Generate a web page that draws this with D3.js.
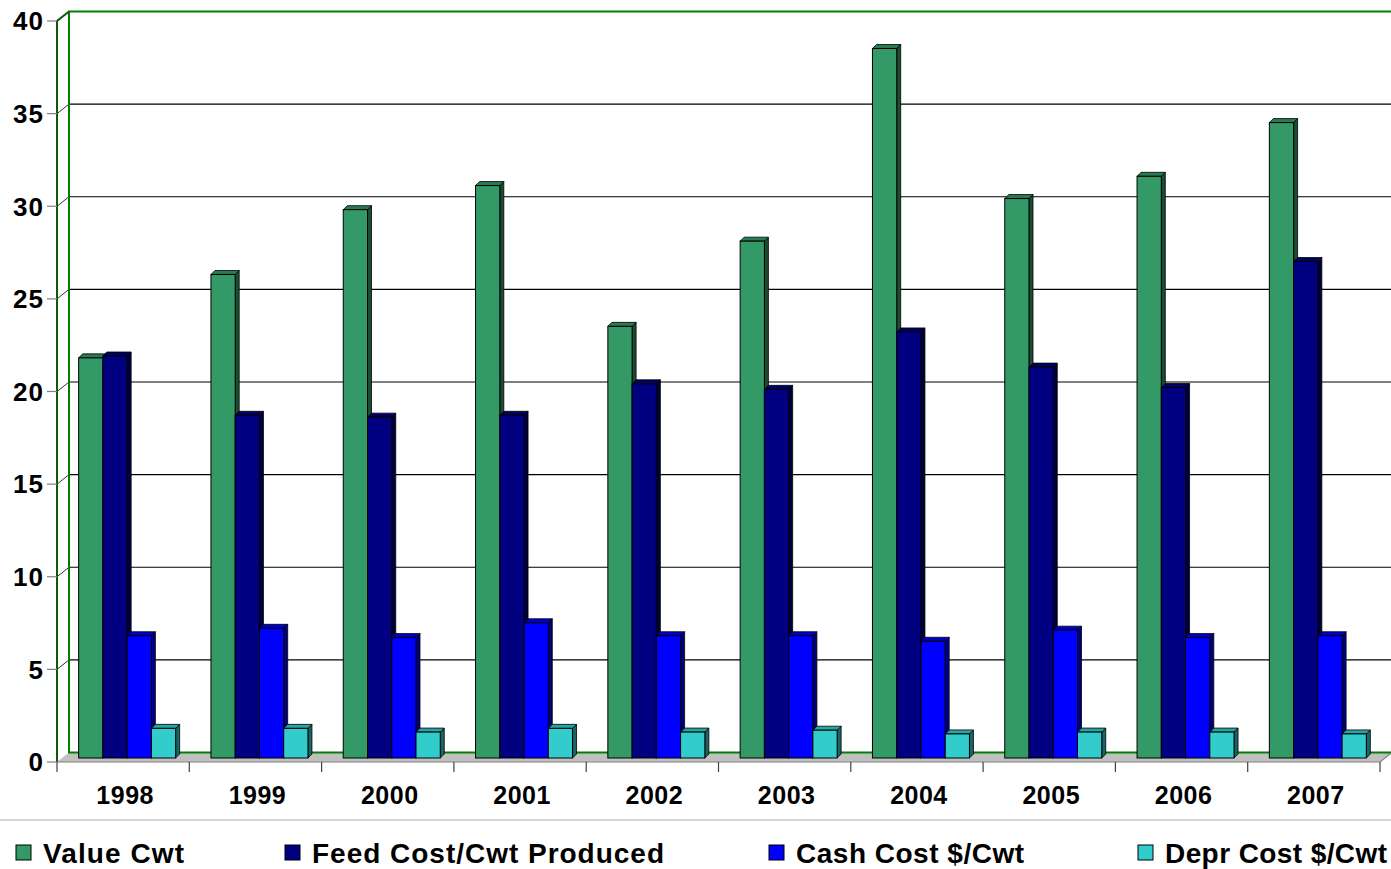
<!DOCTYPE html>
<html><head><meta charset="utf-8">
<script src="https://cdn.jsdelivr.net/npm/d3@7"></script>
<style>body{margin:0;background:#fff;overflow:hidden}svg{display:block}</style>
</head><body>
<svg id="c" width="1391" height="869"></svg>
<script>
const years = ["1998","1999","2000","2001","2002","2003","2004","2005","2006","2007"];
const seriesNames = ["Value Cwt","Feed Cost/Cwt Produced","Cash Cost $/Cwt","Depr Cost $/Cwt"];
const valueCwt = [21.6, 26.1, 29.6, 30.9, 23.3, 27.9, 38.3, 30.2, 31.4, 34.3];
const feedCost = [21.7, 18.5, 18.4, 18.5, 20.2, 19.9, 23.0, 21.1, 20.0, 26.8];
const cashCost = [6.6, 7.0, 6.5, 7.3, 6.6, 6.6, 6.3, 6.9, 6.5, 6.6];
const deprCost = [1.6, 1.6, 1.4, 1.6, 1.4, 1.5, 1.3, 1.4, 1.4, 1.3];
const yTicks = [0,5,10,15,20,25,30,35,40];

const seriesValues = [valueCwt, feedCost, cashCost, deprCost];
const faceColors = ["#339966","#000080","#0000ff","#33cccc"];
const topColors  = ["#287a52","#000066","#0000cc","#29a3a3"];
const sideColors = ["#1a4d33","#00003d","#000080","#1a6666"];

const svg = d3.select("#c");
const FONT = "Arial, 'Liberation Sans', sans-serif";

// geometry
const x0 = 57, x1 = 1380, yFloor = 762, yTop = 21;
const DX = 12, DY = -9.5;
const x = d3.scaleBand().domain(years).range([x0, x1]);
const yF = d3.scaleLinear().domain([0,40]).range([yFloor, yTop]);
const groupW = 97;
const xs = d3.scaleBand().domain(seriesNames).range([0, groupW]);
const bdx = 4, bdy = -4;

const g = svg.append("g");
g.append("path")
  .attr("d", `M${x0},${yFloor}L${x1},${yFloor}L${x1+DX},${yFloor+DY}L${x0+DX},${yFloor+DY}Z`)
  .attr("fill","#c0c0c0").attr("stroke","none");

yTicks.filter(v=>v>0 && v<40).forEach(v=>{
  const yb = yF(v)+DY;
  g.append("line").attr("x1",x0+DX).attr("x2",x1+DX).attr("y1",yb).attr("y2",yb)
    .attr("stroke","#000").attr("stroke-width",1.2);
  g.append("line").attr("x1",x0).attr("x2",x0+DX).attr("y1",yF(v)).attr("y2",yb)
    .attr("stroke","#000").attr("stroke-width",0.8);
});
g.append("path")
  .attr("d", `M${x0+DX},${yFloor+DY}L${x0+DX},${yTop+DY}L${x1+DX},${yTop+DY}L${x1+DX},${yFloor+DY}Z`)
  .attr("fill","none").attr("stroke","#008000").attr("stroke-width",2);
g.append("path")
  .attr("d", `M${x0},${yFloor}L${x0},${yTop}L${x0+DX},${yTop+DY}`)
  .attr("fill","none").attr("stroke","#0a5a0a").attr("stroke-width",2);
g.append("path")
  .attr("d", `M${x0},${yFloor}L${x1},${yFloor}L${x1+DX},${yFloor+DY}`)
  .attr("fill","none").attr("stroke","#808080").attr("stroke-width",1.2);

yTicks.forEach(v=>{
  g.append("line").attr("x1",x0-10).attr("x2",x0).attr("y1",yF(v)).attr("y2",yF(v))
    .attr("stroke","#808080").attr("stroke-width",1.2);
  g.append("text").attr("x",44).attr("y",yF(v)).attr("dy","0.36em")
    .attr("text-anchor","end").attr("font-family",FONT).attr("font-weight","bold")
    .attr("font-size",26).attr("letter-spacing","1px").attr("fill","#000").text(v);
});

const bounds = years.map(d=>x(d)).concat([x1]);
bounds.forEach(bx=>{
  g.append("line").attr("x1",bx).attr("x2",bx).attr("y1",yFloor).attr("y2",yFloor+10)
    .attr("stroke","#404040").attr("stroke-width",1.2);
});
years.forEach(d=>{
  g.append("text").attr("x",x(d)+x.bandwidth()/2+2).attr("y",804)
    .attr("text-anchor","middle").attr("font-family",FONT).attr("font-weight","bold")
    .attr("font-size",25).attr("letter-spacing","0.5px").attr("fill","#000").text(d);
});

const bars = svg.append("g");
const off = (x.bandwidth()-groupW)/2 + bdx;
years.forEach((yr,i)=>{
  seriesNames.forEach((s,k)=>{
    const v = seriesValues[k][i];
    const bx = x(yr) + off + xs(s);
    const bw = xs.bandwidth();
    const yb = yF(0) + bdy, yt = yF(v) + bdy;
    bars.append("path")
      .attr("d",`M${bx+bw},${yb}L${bx+bw},${yt}L${bx+bw+bdx},${yt+bdy}L${bx+bw+bdx},${yb+bdy}Z`)
      .attr("fill",sideColors[k]).attr("stroke","#000").attr("stroke-width",0.8);
    bars.append("path")
      .attr("d",`M${bx},${yt}L${bx+bw},${yt}L${bx+bw+bdx},${yt+bdy}L${bx+bdx},${yt+bdy}Z`)
      .attr("fill",topColors[k]).attr("stroke","#000").attr("stroke-width",0.8);
    bars.append("rect").attr("x",bx).attr("y",yt).attr("width",bw).attr("height",yb-yt)
      .attr("fill",faceColors[k]).attr("stroke","#000").attr("stroke-width",1);
  });
});

svg.append("line").attr("x1",0).attr("x2",1391).attr("y1",820).attr("y2",820)
  .attr("stroke","#c8c8c8").attr("stroke-width",1.5);

const legendX = [16, 285, 769, 1138];
const legendW = [141, 352, 228, 222];
seriesNames.forEach((s,k)=>{
  svg.append("rect").attr("x",legendX[k]).attr("y",845).attr("width",15).attr("height",15)
    .attr("fill",faceColors[k]).attr("stroke","#000").attr("stroke-width",1);
  svg.append("text").attr("x",legendX[k]+27).attr("y",863)
    .attr("font-family",FONT).attr("font-weight","bold").attr("font-size",28)
    .attr("textLength",legendW[k]).attr("lengthAdjust","spacing")
    .attr("fill","#000").text(s);
});
</script>
</body></html>
